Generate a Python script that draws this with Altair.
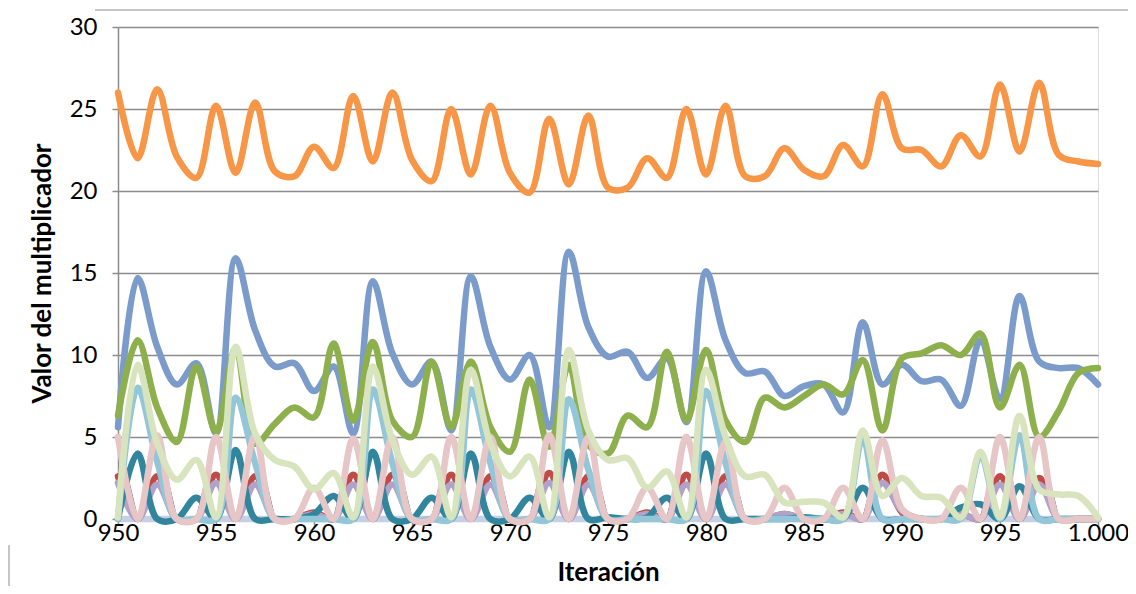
import altair as alt
import pandas as pd

iteracion = list(range(950, 1001))

naranja = [26.0, 22.0, 26.2, 22.1, 20.8, 25.2, 21.1, 25.4, 21.2, 20.9, 22.7,
           21.4, 25.8, 21.8, 26.0, 21.9, 20.6, 25.0, 21.0, 25.2, 21.1,
           19.9, 24.4, 20.4, 24.6, 20.2, 20.2, 22.0, 20.8, 25.0, 21.0,
           25.2, 20.9, 20.9, 22.6, 21.3, 20.9, 22.8, 21.5, 25.9, 22.6,
           22.5, 21.5, 23.4, 22.1, 26.5, 22.4, 26.6, 22.2, 21.8, 21.65]

azul = [5.6, 14.7, 10.5, 8.2, 9.5, 5.2, 15.9, 11.5, 9.3, 9.5, 7.8,
        9.3, 5.2, 14.5, 10.1, 8.2, 9.6, 5.4, 14.8, 10.5, 8.5,
        10.0, 5.6, 16.3, 11.7, 9.9, 10.2, 8.6, 9.8, 5.9, 15.1,
        10.9, 8.9, 9.0, 7.5, 8.1, 8.2, 6.5, 12.0, 8.2, 9.4,
        8.4, 8.5, 6.9, 10.9, 7.3, 13.6, 9.6, 9.2, 9.2, 8.2]

verde = [6.3, 10.9, 6.8, 4.7, 9.3, 5.3, 10.4, 4.6, 5.8, 6.8, 6.2,
         10.7, 6.0, 10.8, 6.0, 5.0, 9.6, 5.6, 9.6, 5.6, 4.1,
         8.5, 4.4, 9.4, 4.5, 4.0, 6.3, 5.6, 10.2, 6.0, 10.3,
         6.0, 4.7, 7.4, 6.8, 7.5, 8.2, 7.6, 9.7, 5.4, 9.8,
         10.1, 10.6, 10.0, 11.3, 6.8, 9.4, 5.0, 6.6, 8.9, 9.2]

verde_claro = [0.1, 9.4, 4.6, 2.4, 3.6, 0.1, 10.5, 5.2, 3.6, 3.2, 1.8,
               2.8, 0.1, 9.3, 4.8, 2.7, 3.8, 0.1, 9.1, 4.6, 2.6,
               3.8, 0.1, 10.3, 5.4, 3.6, 3.7, 1.9, 2.9, 0.1, 9.1,
               5.0, 2.6, 2.7, 1.0, 1.05, 1.0, 0.1, 5.4, 1.4, 2.5,
               1.4, 1.3, 0.1, 4.1, 0.1, 6.3, 1.8, 1.5, 1.4, 0.1]

celeste = [0, 8.0, 3.5, 0, 0, 0, 7.4, 3.4, 0, 0, 0,
           0, 0, 7.9, 3.4, 0, 0, 0, 7.9, 3.4, 0,
           0, 0, 7.3, 3.0, 0, 0, 0, 0, 0, 7.8,
           3.4, 0, 0, 0, 0, 0, 0, 4.9, 0, 0,
           0, 0, 0, 3.8, 0, 5.1, 0, 0, 0, 0]

turquesa = [0, 4.0, 0, 0, 1.3, 0, 4.2, 0, 0, 0, 0.3,
            1.4, 0, 4.1, 0, 0, 1.3, 0, 4.0, 0, 0,
            1.3, 0, 4.1, 0, 0.1, 0, 0.1, 1.3, 0, 4.0,
            0, 0, 0, 0, 0.1, 0, 0, 1.9, 0, 0,
            0, 0, 0.7, 0.9, 0, 2.0, 0, 0, 0, 0]

rosa = [5.0, 0, 5.1, 0, 0, 5.0, 0, 5.1, 0, 0, 1.9,
        0, 4.9, 0, 5.0, 0, 0, 5.0, 0, 5.0, 0,
        0, 5.1, 0, 5.0, 0, 0, 1.9, 0, 5.0, 0,
        4.7, 0, 0, 1.9, 0, 0, 1.9, 0, 4.8, 0.6,
        0, 0, 1.9, 0, 5.0, 0, 5.0, 0, 0, 0]

morado = [5.0, 0, 5.1, 0, 0, 5.0, 0, 5.1, 0, 0, 1.9,
          0, 4.9, 0, 5.0, 0, 0, 5.0, 0, 5.0, 0,
          0, 5.1, 0, 5.0, 0, 0, 1.9, 0, 5.0, 0,
          4.7, 0, 0, 1.9, 0, 0, 1.9, 0, 4.8, 0.6,
          0, 0, 1.9, 0, 5.0, 0, 5.0, 0, 0, 0]

rojo = [2.6, 0, 2.6, 0, 0, 2.7, 0, 2.6, 0, 0, 0.4,
        0, 2.7, 0, 2.7, 0, 0, 2.7, 0, 2.6, 0,
        0, 2.8, 0, 2.6, 0, 0, 0.4, 0, 2.7, 0,
        2.6, 0, 0, 0.3, 0, 0, 0.4, 0, 2.7, 0.4,
        0, 0, 0.3, 0, 2.6, 0, 2.5, 0, 0, 0]

lila = [2.2, 0, 2.1, 0, 0, 2.2, 0, 2.1, 0, 0, 0.3,
        0, 2.1, 0, 2.1, 0, 0, 2.1, 0, 2.1, 0,
        0, 2.2, 0, 2.1, 0, 0, 0.3, 0, 2.1, 0,
        2.1, 0, 0, 0.3, 0, 0, 0.3, 0, 2.2, 0.5,
        0, 0, 0.3, 0, 2.1, 0, 2.1, 0, 0, 0]

gris_azulado = [0] * 51

# draw order (bottom to top), colours, widths, interpolation
series = [
    ("gris_azulado", gris_azulado, "#C6D0E4", 6.5, "linear"),
    ("azul", azul, "#7B9BCB", 6.5, "catmull-rom"),
    ("verde", verde, "#8DB04D", 6.5, "catmull-rom"),
    ("naranja", naranja, "#F79646", 6.5, "catmull-rom"),
    ("rojo", rojo, "#BE4B48", 6.5, "catmull-rom"),
    ("lila", lila, "#B3A2C7", 6.5, "catmull-rom"),
    ("turquesa", turquesa, "#31859C", 6.5, "catmull-rom"),
    ("morado", morado, "#5F4A7B", 1.5, "linear"),
    ("celeste", celeste, "#93C6D8", 6.5, "catmull-rom"),
    ("rosa", rosa, "#E6C6C6", 6.5, "catmull-rom"),
    ("verde_claro", verde_claro, "#D7E4BD", 6.5, "catmull-rom"),
]

rows = []
for name, vals, _, _, _ in series:
    for xv, yv in zip(iteracion, vals):
        rows.append({"x": xv, "y": yv, "serie": name})
df = pd.DataFrame(rows)

FONT = "Lato"
GRID = "#8C8C8C"

base = alt.Chart(df).encode(
    x=alt.X("x:Q",
            scale=alt.Scale(domain=[950, 1000], nice=False, zero=False),
            axis=alt.Axis(values=list(range(950, 1001, 5)), title="Iteración",
                          labelExpr="datum.value == 1000 ? '1.000' : datum.label",
                          format="d", grid=False, domainColor=GRID, domainWidth=1.5,
                          tickColor=GRID, tickWidth=1.5, tickSize=6, labelPadding=-4,
                          labelFlush=False, labelAlign="center",
                          labelFontSize=24, labelColor="#000000", labelFont=FONT,
                          titleFont=FONT, titleFontSize=26, titleFontWeight="bold",
                          titleColor="#000000", titleY=61, titleBaseline="alphabetic")),
    y=alt.Y("y:Q",
            scale=alt.Scale(domain=[0, 30], nice=False),
            axis=alt.Axis(values=list(range(0, 31, 5)), title="Valor del multiplicador",
                          grid=True, gridColor=GRID, gridWidth=1.5,
                          domainColor=GRID, domainWidth=1.5, tickColor=GRID,
                          tickWidth=1.5, tickSize=6, labelPadding=15,
                          labelFontSize=24, labelColor="#000000", labelFont=FONT,
                          titleFont=FONT, titleFontSize=26, titleFontWeight="bold",
                          titleColor="#000000", titleX=-76, titleY=246,
                          titleAngle=-90, titleBaseline="middle", titleAlign="center")),
)

layers = []
for name, vals, color, width, interp in series:
    layers.append(
        base.transform_filter(alt.datum.serie == name)
        .mark_line(color=color, strokeWidth=width, interpolate=interp,
                   strokeCap="round", strokeJoin="round")
    )

# thin outer frame pieces visible in the reference
frame = pd.DataFrame({"k": [0]})
layers.append(alt.Chart(frame).mark_rule(color="#8C8C8C", strokeWidth=1).encode(
    x=alt.value(-23), x2=alt.value(1012), y=alt.value(-17)))
layers.append(alt.Chart(frame).mark_rule(color="#8C8C8C", strokeWidth=1).encode(
    x=alt.value(-109), y=alt.value(518), y2=alt.value(560)))

chart = alt.layer(*layers).properties(
    width=980, height=492,
    autosize=alt.AutoSizeParams(type="none"),
    padding={"left": 110, "top": 19, "right": 30, "bottom": 67},
).configure_view(stroke=None).configure(background="white")

chart.save("out.html", embed_options={"renderer": "svg", "actions": False})
